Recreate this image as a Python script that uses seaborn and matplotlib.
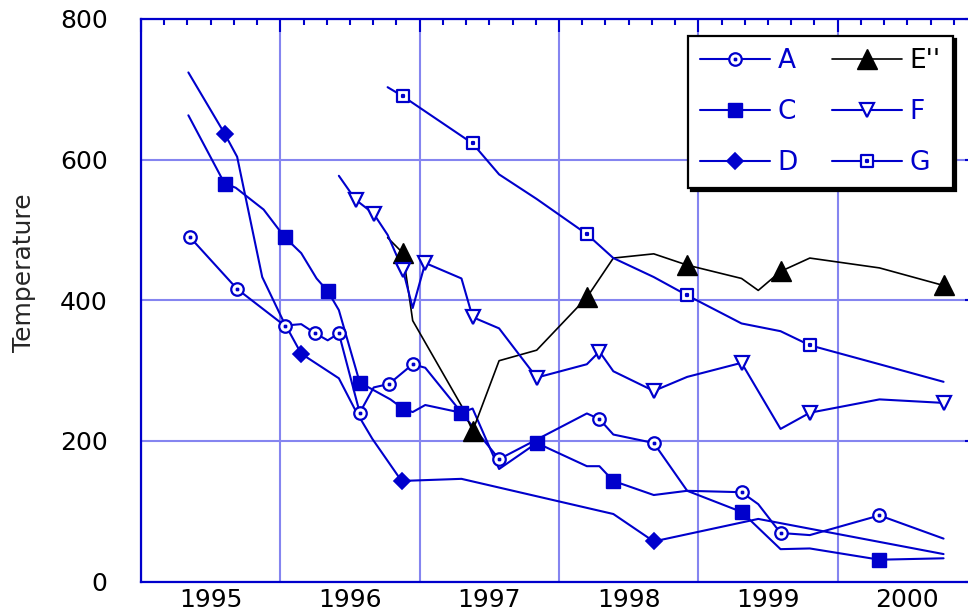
import matplotlib
matplotlib.use("Agg")
import matplotlib.pyplot as plt
from matplotlib.lines import Line2D
from matplotlib.path import Path
from matplotlib.ticker import FixedLocator, FixedFormatter, MultipleLocator, NullFormatter
import seaborn as sns

# data (x in decimal years), marker indices mark the symbols
a_x = [1995.35, 1995.69, 1996.03, 1996.15, 1996.25, 1996.34, 1996.42, 1996.57, 1996.67,
       1996.78, 1996.95, 1997.04, 1997.57, 1998.20, 1998.29, 1998.39, 1998.68, 1998.92,
       1999.31, 1999.43, 1999.59, 1999.80, 2000.30, 2000.76]
a_y = [490, 416, 364, 366, 353, 343, 353, 240, 276, 281, 309, 304, 174, 239, 231, 209,
       197, 129, 127, 110, 69, 66, 94, 61]
a_mark = [0, 1, 2, 4, 6, 7, 9, 10, 12, 14, 16, 18, 20, 22]

c_x = [1995.34, 1995.60, 1995.68, 1995.88, 1996.03, 1996.15, 1996.26, 1996.34, 1996.42,
       1996.57, 1996.79, 1996.88, 1996.95, 1997.04, 1997.30, 1997.38, 1997.57, 1997.84,
       1998.20, 1998.29, 1998.39, 1998.68, 1998.92, 1999.31, 1999.59, 1999.80, 2000.30,
       2000.76]
c_y = [663, 566, 560, 529, 490, 467, 431, 413, 386, 283, 259, 246, 241, 251, 240, 246,
       160, 197, 164, 164, 143, 123, 129, 99, 46, 47, 31, 33]
c_mark = [1, 4, 7, 9, 11, 14, 17, 20, 23, 26]

d_x = [1995.34, 1995.60, 1995.69, 1995.87, 1996.02, 1996.15, 1996.42, 1996.54, 1996.66,
       1996.87, 1997.30, 1998.39, 1998.68, 1999.43, 2000.76]
d_y = [724, 637, 604, 433, 371, 324, 289, 243, 203, 143, 146, 96, 57, 89, 39]
d_mark = [1, 5, 9, 12]

e_x = [1996.77, 1996.88, 1996.95, 1997.30, 1997.38, 1997.57, 1997.84, 1998.20, 1998.39,
       1998.68, 1998.92, 1999.31, 1999.43, 1999.59, 1999.80, 2000.30, 2000.76]
e_y = [489, 467, 371, 250, 214, 314, 329, 404, 460, 466, 450, 431, 414, 441, 460, 446, 421]
e_mark = [1, 4, 7, 10, 13, 16]

f_x = [1996.42, 1996.54, 1996.67, 1996.77, 1996.88, 1996.95, 1997.04, 1997.30, 1997.38,
       1997.57, 1997.84, 1998.20, 1998.29, 1998.39, 1998.68, 1998.92, 1999.31, 1999.59,
       1999.80, 2000.30, 2000.76]
f_y = [577, 543, 523, 493, 443, 389, 453, 431, 376, 360, 290, 309, 327, 299, 271, 291,
       311, 217, 240, 259, 254]
f_mark = [1, 2, 4, 6, 8, 10, 12, 14, 16, 18, 20]

g_x = [1996.77, 1996.88, 1997.38, 1997.57, 1997.84, 1998.20, 1998.39, 1998.68, 1998.92,
       1999.31, 1999.59, 1999.80, 2000.30, 2000.76]
g_y = [703, 690, 623, 579, 544, 494, 460, 433, 407, 367, 356, 336, 309, 284]
g_mark = [1, 2, 5, 8, 11]

years = [1995, 1996, 1997, 1998, 1999, 2000]

blue = "#0000cc"
grid_blue = "#8585f0"


def with_dot(outline):
    d = 0.12
    dot = Path([(-d, -d), (d, -d), (d, d), (-d, d), (-d, -d)],
               [Path.MOVETO, Path.LINETO, Path.LINETO, Path.LINETO, Path.CLOSEPOLY])
    return Path.make_compound_path(outline, dot)


square = Path([(-1, -1), (1, -1), (1, 1), (-1, 1), (-1, -1)],
              [Path.MOVETO, Path.LINETO, Path.LINETO, Path.LINETO, Path.CLOSEPOLY])
ring_dot = with_dot(Path.unit_circle())
box_dot = with_dot(square)

series = [
    ("A", a_x, a_y, a_mark, blue, 1.5, dict(marker=ring_dot, ms=9, mfc="white", mec=blue, mew=1.6)),
    ("C", c_x, c_y, c_mark, blue, 1.5, dict(marker="s", ms=10.5, mfc=blue, mec=blue, mew=1)),
    ("D", d_x, d_y, d_mark, blue, 1.5, dict(marker="D", ms=8, mfc=blue, mec=blue, mew=1.2)),
    ("E''", e_x, e_y, e_mark, "black", 1.2, dict(marker="^", ms=14, mfc="black", mec="black", mew=1)),
    ("F", f_x, f_y, f_mark, blue, 1.5, dict(marker="v", ms=10, mfc="white", mec=blue, mew=1.6)),
    ("G", g_x, g_y, g_mark, blue, 1.5, dict(marker=box_dot, ms=9, mfc="white", mec=blue, mew=1.6)),
]

sns.set_style("white")
plt.rcParams["font.family"] = ["DejaVu Sans"]

fig = plt.figure(figsize=(9.68, 6.12), dpi=100)
ax = fig.add_axes([141 / 968, 1 - 581.5 / 612, 836 / 968, 562.5 / 612])

for name, xs, ys, idx, col, lw, mk in series:
    sns.lineplot(x=xs, y=ys, sort=False, estimator=None, color=col, lw=lw, ax=ax, zorder=3)
for name, xs, ys, idx, col, lw, mk in series:
    sns.lineplot(x=[xs[i] for i in idx], y=[ys[i] for i in idx], sort=False, estimator=None,
                 color=col, linestyle="none", ax=ax, zorder=4, **mk)

ax.set_xlim(1995, 2001)
ax.set_ylim(0, 800)

ax.xaxis.set_major_locator(MultipleLocator(1))
ax.xaxis.set_major_formatter(NullFormatter())
minor_pos = [1995 + k / 6 for k in range(36) if k % 6]
minor_lab = [str(years[k // 6]) if k % 6 == 3 else "" for k in range(36) if k % 6]
ax.xaxis.set_minor_locator(FixedLocator(minor_pos))
ax.xaxis.set_minor_formatter(FixedFormatter(minor_lab))
ax.yaxis.set_major_locator(MultipleLocator(200))
ax.yaxis.set_minor_locator(MultipleLocator(50))

ax.grid(True, which="major", color=grid_blue, lw=1.5)
ax.set_axisbelow(True)
for sp in ax.spines.values():
    sp.set_color(blue)
    sp.set_linewidth(1.6)
    sp.set_visible(True)

ax.tick_params(which="both", direction="in", top=True, right=True, color=blue, width=1.5,
               labelsize=18, labelcolor="black")
ax.tick_params(which="major", length=9)
ax.tick_params(which="minor", length=4.5)
ax.tick_params(axis="x", which="both", pad=5)
ax.tick_params(axis="y", which="both", pad=24)

ax.set_xlabel("")
ax.set_ylabel("Temperature", fontsize=18)
ax.yaxis.set_label_coords((36 - 141) / 836, (581 - 272) / 562)

handles = [Line2D([], [], color=col, lw=lw, label=name, **mk)
           for name, xs, ys, idx, col, lw, mk in series]
leg = ax.legend(handles=handles, ncol=2, loc="upper left", bbox_to_anchor=(0.654, 0.970),
                borderaxespad=0, fancybox=False, shadow={"color": "black", "alpha": 1},
                framealpha=1, edgecolor="black", fontsize=19, handlelength=2.65,
                handletextpad=0.3, columnspacing=1.3, labelspacing=0.95, borderpad=0.45)
leg.get_frame().set_linewidth(1.6)
leg.set_zorder(10)
for txt, s in zip(leg.get_texts(), series):
    txt.set_color(s[4])

fig.savefig("out.png", dpi=100)
